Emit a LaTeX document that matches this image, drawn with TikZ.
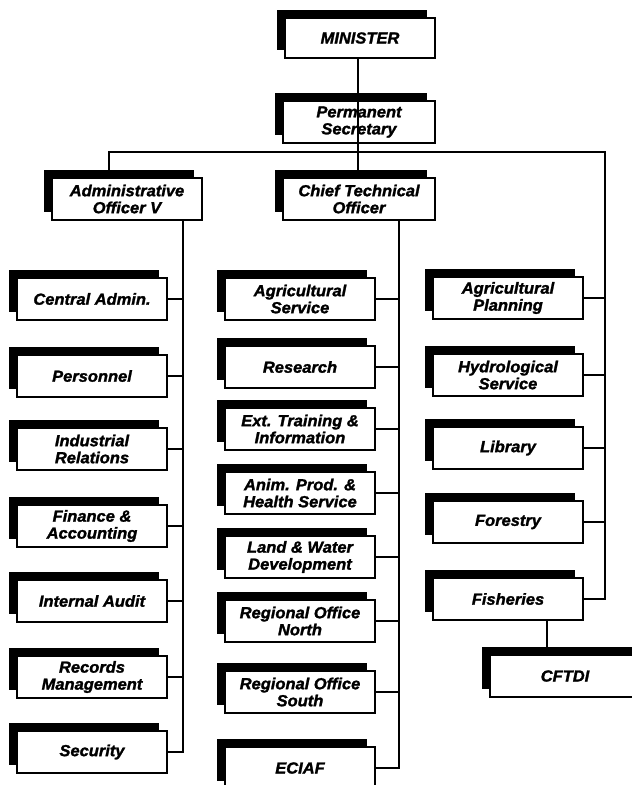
\documentclass[tikz,border=0pt]{standalone}
\usepackage{fontspec}
\setmainfont{Liberation Sans}[BoldItalicFeatures={FakeBold=1.6, FakeStretch=1.03}]
\usetikzlibrary{shadows}
\tikzset{
  orgbox/.style={draw=black, line width=1.4pt, fill=white, minimum width=150pt, minimum height=42pt,
    align=center, inner sep=1pt,
    font=\fontsize{16}{17}\selectfont\bfseries\itshape,
    drop shadow={shadow xshift=-8pt, shadow yshift=8pt, fill=black, opacity=1}},
  link/.style={line width=1.3pt, black}
}
\begin{document}
\begin{tikzpicture}[x=1pt,y=-1pt]
\useasboundingbox (0,0) rectangle (632,785);
% top
\node[orgbox, minimum height=40pt] (min) at (360,38) {MINISTER};
\node[orgbox, minimum width=152pt] (ps) at (359,122) {Permanent\\Secretary};
\node[orgbox] (adm) at (127,199) {Administrative\\Officer V};
\node[orgbox, minimum width=152pt] (cto) at (359,199) {Chief Technical\\Officer};
% left column
\node[orgbox] (cen) at (92,299) {Central Admin.};
\node[orgbox] (per) at (92,376) {Personnel};
\node[orgbox] (ind) at (92,449) {Industrial\\Relations};
\node[orgbox] (fin) at (92,526) {Finance \&\\Accounting};
\node[orgbox] (aud) at (92,601) {Internal Audit};
\node[orgbox] (rec) at (92,677) {Records\\Management};
\node[orgbox] (sec) at (92,752) {Security};
% middle column
\node[orgbox] (ags) at (300,299) {Agricultural\\Service};
\node[orgbox] (res) at (300,367) {Research};
\node[orgbox] (ext) at (300,429) {Ext. Training \&\\Information};
\node[orgbox] (ani) at (300,493) {Anim. Prod. \&\\Health Service};
\node[orgbox] (lnd) at (300,557) {Land \& Water\\Development};
\node[orgbox] (rgn) at (300,621) {Regional Office\\North};
\node[orgbox] (rgs) at (300,692) {Regional Office\\South};
\node[orgbox] (eci) at (300,768) {ECIAF};
% right column
\node[orgbox] (agp) at (508,298) {Agricultural\\Planning};
\node[orgbox] (hyd) at (508,375) {Hydrological\\Service};
\node[orgbox] (lib) at (508,448) {Library};
\node[orgbox] (for) at (508,522) {Forestry};
\node[orgbox] (fis) at (508,599) {Fisheries};
\node[orgbox] (cft) at (565,676) {CFTDI};
% coordinates
\coordinate (bus) at (358,152);
\coordinate (rbus) at (605,152);
\coordinate (lv) at (183,0);
\coordinate (mv) at (399,0);
\coordinate (rv) at (605,0);
% connectors
\draw[link] (min.south -| bus) -- (ps.south -| bus);
\draw[link] (ps.south -| bus) -- (bus);
\draw[link] ([xshift=-18pt]adm.north) |- (rbus) |- (fis.east);
\draw[link] (cto.north -| bus) -- (bus);
\draw[link] (adm.south -| lv) |- (sec.east);
\foreach \n in {cen,per,ind,fin,aud,rec}{\draw[link] (\n.east) -- (\n.east -| lv);}
\draw[link] (cto.south -| mv) |- (eci.east);
\foreach \n in {ags,res,ext,ani,lnd,rgn,rgs}{\draw[link] (\n.east) -- (\n.east -| mv);}
\foreach \n in {agp,hyd,lib,for}{\draw[link] (\n.east) -- (\n.east -| rv);}
\draw[link] ([xshift=39pt]fis.south) -- ([xshift=39pt]fis.south |- cft.north);
\end{tikzpicture}
\end{document}
